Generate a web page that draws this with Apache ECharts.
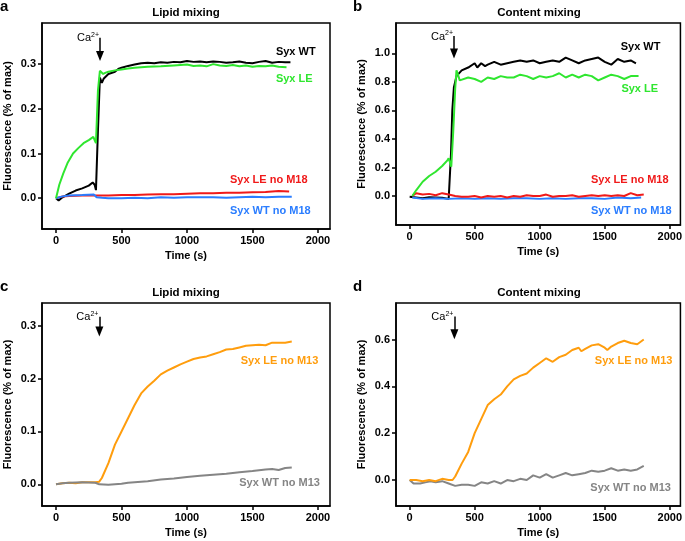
<!DOCTYPE html>
<html>
<head>
<meta charset="utf-8">
<script src="https://cdn.jsdelivr.net/npm/echarts@6/dist/echarts.min.js"></script>
<style>
html,body{margin:0;padding:0;background:#fff;}
#chart{width:685px;height:541px;}
</style>
</head>
<body>
<div id="chart"></div>
<script>
// ---------- DATA ----------
// Panel a: Lipid mixing
const aWT_t = [0,20,50,100,150,200,250,280,295,305,320,335,350,365,400,450,480,500,550,600,650,700,750,800,850,900,950,1000,1050,1100,1150,1200,1250,1300,1350,1400,1450,1500,1550,1600,1650,1700,1750,1790];
const aWT_v = [0,-0.005,0.002,0.01,0.017,0.022,0.028,0.035,0.03,0.018,0.15,0.27,0.258,0.268,0.278,0.283,0.29,0.292,0.296,0.299,0.302,0.303,0.302,0.304,0.303,0.305,0.304,0.307,0.305,0.306,0.304,0.306,0.305,0.303,0.304,0.306,0.303,0.302,0.305,0.307,0.303,0.305,0.304,0.304];
const aLE_t = [0,25,55,90,130,170,210,250,285,295,305,320,335,345,360,380,400,450,500,550,600,700,800,900,1000,1050,1100,1150,1200,1250,1300,1350,1400,1450,1500,1550,1600,1650,1700,1760];
const aLE_v = [0,0.03,0.055,0.08,0.1,0.112,0.123,0.13,0.137,0.13,0.123,0.24,0.285,0.287,0.278,0.281,0.283,0.286,0.288,0.29,0.292,0.294,0.295,0.297,0.299,0.296,0.297,0.295,0.3,0.297,0.296,0.298,0.295,0.297,0.294,0.296,0.295,0.297,0.294,0.293];
const aLEnoM18_t = [0,50,100,200,300,310,400,500,600,700,800,900,1000,1100,1200,1300,1400,1500,1600,1700,1780];
const aLEnoM18_v = [0,0.004,0.005,0.006,0.006,0.005,0.006,0.007,0.007,0.008,0.009,0.009,0.01,0.011,0.011,0.012,0.012,0.013,0.014,0.016,0.015];
const aWTnoM18_t = [0,50,100,200,290,310,350,400,500,600,700,800,900,1000,1100,1200,1300,1400,1500,1600,1700,1800];
const aWTnoM18_v = [0,0.004,0.006,0.007,0.008,0.002,0.001,0,0,0.001,0,0.002,0.001,0.002,0.002,0.002,0.001,0.002,0.003,0.002,0.003,0.003];

// Panel b: Content mixing
const bWT_t = [0,50,100,150,200,250,300,308,318,328,340,360,400,450,500,520,550,580,600,650,700,750,800,850,900,950,1000,1050,1100,1150,1200,1250,1300,1350,1400,1450,1500,1550,1600,1650,1700,1740];
const bWT_v = [-0.005,-0.01,-0.015,-0.008,-0.01,-0.012,-0.02,-0.01,0.3,0.6,0.76,0.84,0.88,0.9,0.93,0.9,0.93,0.91,0.92,0.94,0.92,0.93,0.94,0.95,0.94,0.95,0.93,0.94,0.95,0.94,0.97,0.95,0.93,0.95,0.96,0.97,0.94,0.92,0.96,0.94,0.95,0.93];
const bLE_t = [20,50,100,150,200,250,290,300,320,335,350,360,372,385,400,450,500,550,600,650,700,750,800,850,900,950,1000,1050,1100,1150,1200,1250,1300,1350,1400,1450,1500,1550,1600,1650,1700,1760];
const bLE_v = [0,0.04,0.1,0.14,0.17,0.21,0.25,0.265,0.205,0.45,0.75,0.88,0.85,0.81,0.81,0.83,0.82,0.8,0.83,0.82,0.84,0.83,0.83,0.85,0.84,0.82,0.84,0.83,0.84,0.86,0.83,0.85,0.83,0.85,0.84,0.81,0.83,0.85,0.84,0.82,0.84,0.84];
const bLEnoM18_t = [20,50,100,150,200,250,300,350,400,450,500,550,600,650,700,750,800,850,900,950,1000,1050,1100,1150,1200,1250,1300,1350,1400,1450,1500,1550,1600,1650,1700,1750,1800];
const bLEnoM18_v = [0,0.02,0.01,0.015,0.005,0.02,0.01,0,-0.005,-0.005,0,-0.01,0,-0.005,0,-0.01,0,-0.005,0.005,0,0,0.01,-0.005,0,0,0.005,-0.005,0,0.005,0,0.005,0,0.005,0,0.02,0.005,0.01];
const bWTnoM18_t = [20,100,200,300,400,500,600,700,800,900,1000,1100,1200,1300,1400,1500,1600,1700,1780];
const bWTnoM18_v = [-0.01,-0.02,-0.015,-0.02,-0.015,-0.02,-0.015,-0.02,-0.015,-0.015,-0.02,-0.015,-0.02,-0.015,-0.015,-0.02,-0.01,-0.015,-0.01];

// Panel c: Lipid mixing (no M13)
const cLE_t = [0,50,100,150,200,250,300,330,350,400,450,500,550,600,650,700,750,800,850,900,950,1000,1050,1100,1150,1200,1250,1300,1350,1400,1450,1500,1550,1600,1650,1700,1750,1800];
const cLE_v = [0,0.002,0.003,0.002,0.004,0.004,0.004,0.005,0.012,0.04,0.075,0.1,0.125,0.15,0.172,0.185,0.196,0.208,0.215,0.221,0.227,0.232,0.237,0.24,0.242,0.246,0.25,0.255,0.256,0.259,0.262,0.263,0.264,0.263,0.268,0.268,0.268,0.27];
const cWT_t = [0,50,100,200,300,330,400,450,500,550,600,700,800,900,1000,1100,1200,1300,1400,1500,1600,1650,1700,1750,1800];
const cWT_v = [0,0.002,0.003,0.004,0.003,0,-0.001,0,0.001,0.003,0.004,0.006,0.009,0.011,0.014,0.016,0.018,0.02,0.023,0.025,0.028,0.029,0.027,0.031,0.032];

// Panel d: Content mixing (no M13)
const dLE_t = [0,50,100,150,200,250,300,330,350,400,450,500,550,600,650,700,750,800,850,900,950,1000,1050,1100,1150,1200,1250,1300,1320,1350,1400,1450,1500,1520,1550,1600,1650,1700,1750,1800];
const dLE_v = [0,0,-0.005,0,-0.005,0.005,0,0,0.015,0.07,0.12,0.2,0.26,0.32,0.345,0.365,0.4,0.43,0.445,0.455,0.48,0.5,0.52,0.505,0.525,0.535,0.555,0.565,0.55,0.56,0.575,0.58,0.565,0.555,0.57,0.585,0.595,0.585,0.58,0.6];
const dWT_t = [0,30,80,120,160,200,250,300,350,400,450,500,550,600,650,700,750,800,850,900,950,1000,1050,1100,1150,1200,1250,1300,1350,1400,1450,1500,1550,1600,1650,1700,1750,1800];
const dWT_v = [0,-0.015,-0.015,-0.01,-0.005,-0.01,-0.005,-0.015,-0.025,-0.02,-0.02,-0.025,-0.01,-0.015,-0.005,-0.015,0,-0.005,0.005,0,0.02,0.01,0.025,0.01,0.02,0.03,0.02,0.025,0.03,0.04,0.035,0.04,0.05,0.04,0.045,0.04,0.045,0.06];

// Tick labels
const xTicks = [0,500,1000,1500,2000];
const yTicksA = [0,0.1,0.2,0.3];
const yTicksB = [0,0.2,0.4,0.6,0.8,1.0];
const yTicksC = [0,0.1,0.2,0.3];
const yTicksD = [0,0.2,0.4,0.6];
const panelLetters = ['a','b','c','d'];
const panelTitles = ['Lipid mixing','Content mixing','Lipid mixing','Content mixing'];
const xName = 'Time (s)';
const yName = 'Fluorescence (% of max)';

// ---------- CHART ----------
const FONT = '"Liberation Sans", Arial, Helvetica, sans-serif';
const COL = {black:'#000000', green:'#2fe62f', red:'#f01a1a', blue:'#2a7dff', orange:'#ff9d0d', gray:'#858585'};
const zip = (t, v) => t.map((x, i) => [x, v[i]]);

const grids = [
  {left:42, top:23, width:288, height:206},
  {left:396, top:23, width:286, height:202},
  {left:42, top:303, width:288, height:203},
  {left:396, top:303, width:286, height:203}
];
const xRanges = [[-107,2092],[-105,2082],[-107,2092],[-105,2082]];
const yRanges = [[-0.069,0.392],[-0.203,1.212],[-0.041,0.343],[-0.111,0.756]];
const yTicks = [yTicksA, yTicksB, yTicksC, yTicksD];

const bold = {fontFamily:FONT, fontWeight:'bold', fontSize:11, color:'#000'};

const xAxes = grids.map((g, i) => ({
  gridIndex:i, type:'value', min:xRanges[i][0], max:xRanges[i][1],
  axisLine:{show:true, onZero:false, lineStyle:{color:'#000', width:1.5}},
  axisTick:{show:true, length:4, lineStyle:{color:'#000', width:1.5}, customValues:xTicks},
  axisLabel:Object.assign({customValues:xTicks, margin:6, formatter:v => String(Math.round(v))}, bold),
  splitLine:{show:false},
  name:xName, nameLocation:'middle', nameGap:21, nameTextStyle:bold
}));
const yAxes = grids.map((g, i) => ({
  gridIndex:i, type:'value', min:yRanges[i][0], max:yRanges[i][1],
  axisLine:{show:true, onZero:false, lineStyle:{color:'#000', width:1.5}},
  axisTick:{show:true, length:4, lineStyle:{color:'#000', width:1.5}, customValues:yTicks[i]},
  axisLabel:Object.assign({customValues:yTicks[i], margin:6, formatter:v => v.toFixed(1)}, bold),
  splitLine:{show:false},
  name:yName, nameLocation:'middle', nameGap:29, nameTextStyle:bold
}));

function endLabel(text, coord, color) {
  return {
    symbol:'circle', symbolSize:0, silent:true, animation:false,
    label:{show:true, position:'right', distance:0, formatter:text, color:color,
           fontFamily:FONT, fontWeight:'bold', fontSize:11},
    data:[{coord:coord}]
  };
}
function caMark(top, tip) {
  return {
    markLine:{
      silent:true, animation:false, symbol:['none','triangle'], symbolSize:[8,10],
      lineStyle:{color:'#000', width:1.5, type:'solid'}, label:{show:false},
      data:[[{coord:top},{coord:tip}]]
    }
  };
}
function line(name, i, data, color, extra) {
  return Object.assign({
    name:name, type:'line', xAxisIndex:i, yAxisIndex:i, data:data,
    showSymbol:false, symbol:'none', smooth:false, animation:false,
    lineStyle:{color:color, width:2}, itemStyle:{color:color}
  }, extra || {});
}
const caLabel = (coord) => ({
  symbol:'circle', symbolSize:0, silent:true, animation:false,
  label:{show:true, position:'left', distance:1, offset:[0,0],
         formatter:'{a|Ca}{b|2+}',
         rich:{a:{fontFamily:FONT, fontSize:11, color:'#000', lineHeight:12, verticalAlign:'bottom'},
               b:{fontFamily:FONT, fontSize:7, color:'#000', lineHeight:12, verticalAlign:'top'}}},
  data:[{coord:coord}]
});

const series = [
  // a
  line('Syx WT', 0, zip(aWT_t, aWT_v), COL.black, Object.assign({markPoint:endLabel('Syx WT',[1679,0.327],COL.black)}, caMark([336,0.359],[336,0.318]))),
  line('Syx LE no M18', 0, zip(aLEnoM18_t, aLEnoM18_v), COL.red, {markPoint:endLabel('Syx LE no M18',[1328,0.040],COL.red)}),
  line('Syx WT no M18', 0, zip(aWTnoM18_t, aWTnoM18_v), COL.blue, {markPoint:endLabel('Syx WT no M18',[1328,-0.029],COL.blue)}),
  line('Syx LE', 0, zip(aLE_t, aLE_v), COL.green, {markPoint:endLabel('Syx LE',[1679,0.266],COL.green)}),
  line('ca-a', 0, [], COL.black, {markPoint:caLabel([336,0.359])}),
  // b
  line('Syx WT', 1, zip(bWT_t, bWT_v), COL.black, Object.assign({markPoint:endLabel('Syx WT',[1623,1.042],COL.black)}, caMark([341,1.121],[341,0.998]))),
  line('Syx WT no M18', 1, zip(bWTnoM18_t, bWTnoM18_v), COL.blue, {markPoint:endLabel('Syx WT no M18',[1394,-0.103],COL.blue)}),
  line('Syx LE no M18', 1, zip(bLEnoM18_t, bLEnoM18_v), COL.red, {markPoint:endLabel('Syx LE no M18',[1394,0.112],COL.red)}),
  line('Syx LE', 1, zip(bLE_t, bLE_v), COL.green, {markPoint:endLabel('Syx LE',[1628,0.748],COL.green)}),
  line('ca-b', 1, [], COL.black, {markPoint:caLabel([341,1.121])}),
  // c
  line('Syx LE no M13', 2, zip(cLE_t, cLE_v), COL.orange, Object.assign({markPoint:endLabel('Syx LE no M13',[1410,0.234],COL.orange)}, caMark([331,0.317],[331,0.289]))),
  line('Syx WT no M13', 2, zip(cWT_t, cWT_v), COL.gray, {markPoint:endLabel('Syx WT no M13',[1399,0.002],COL.gray)}),
  line('ca-c', 2, [], COL.black, {markPoint:caLabel([331,0.317])}),
  // d
  line('Syx WT no M13', 3, zip(dWT_t, dWT_v), COL.gray, {markPoint:endLabel('Syx WT no M13',[1389,-0.036],COL.gray)}),
  line('Syx LE no M13', 3, zip(dLE_t, dLE_v), COL.orange, Object.assign({markPoint:endLabel('Syx LE no M13',[1424,0.51],COL.orange)}, caMark([344,0.698],[344,0.622]))),
  line('ca-d', 3, [], COL.black, {markPoint:caLabel([344,0.698])})
];

const letterPos = [[0,-1],[353,-1],[0,279],[353,279]];
const titles = [];
panelLetters.forEach((t, i) => titles.push({
  text:t, left:letterPos[i][0], top:letterPos[i][1], padding:0,
  textStyle:{fontFamily:FONT, fontWeight:'bold', fontSize:15, color:'#000'}
}));
panelTitles.forEach((t, i) => titles.push({
  text:t, left:grids[i].left + grids[i].width/2, top:grids[i].top - 16, textAlign:'center', padding:0,
  textStyle:{fontFamily:FONT, fontWeight:'bold', fontSize:11.5, color:'#000'}
}));

const chart = echarts.init(document.getElementById('chart'), null, {renderer:'canvas'});
chart.setOption({
  backgroundColor:'#ffffff',
  animation:false,
  title:titles,
  grid:grids.map(g => Object.assign({show:true, borderColor:'#000', borderWidth:1.5, backgroundColor:'transparent', containLabel:false}, g)),
  xAxis:xAxes,
  yAxis:yAxes,
  series:series
});
</script>
</body>
</html>
